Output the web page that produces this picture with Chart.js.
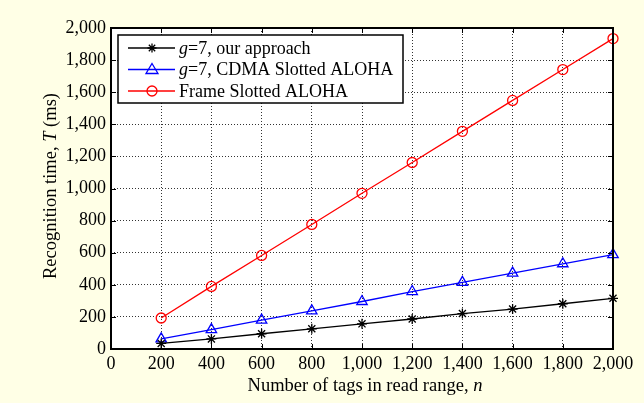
<!DOCTYPE html>
<html>
<head>
<meta charset="utf-8">
<script src="https://cdn.jsdelivr.net/npm/chart.js@4.4.1/dist/chart.umd.min.js"></script>
<style>
  html, body { margin: 0; padding: 0; background: #ffffe6; }
  #wrap { width: 644px; height: 403px; }
</style>
</head>
<body>
<div id="wrap"><canvas id="recog" width="644" height="403"></canvas></div>
<script>
// tags in read range
const tagCounts = [200, 400, 600, 800, 1000, 1200, 1400, 1600, 1800, 2000];
// recognition time (ms)
const ourApproach = [35, 63, 95, 126, 157, 187, 221, 249, 282, 316];
const cdmaAloha = [63, 121, 180, 238, 296, 358, 415, 473, 531, 588];
const frameAloha = [193, 390, 583, 776, 970, 1162, 1356, 1549, 1741, 1934];
const xTicks = [0, 200, 400, 600, 800, 1000, 1200, 1400, 1600, 1800, 2000];
const yTicks = [0, 200, 400, 600, 800, 1000, 1200, 1400, 1600, 1800, 2000];

const FONT = '"Liberation Serif", "Times New Roman", serif';
const fmt = v => v.toLocaleString('en-US');

// legend entries: label parts [text, italic], colour, marker
const legendItems = [
  { parts: [['g', true], ['=7, our approach', false]], color: '#000000', marker: 'star' },
  { parts: [['g', true], ['=7, CDMA Slotted ALOHA', false]], color: '#0000ff', marker: 'triangle' },
  { parts: [['Frame Slotted ALOHA', false]], color: '#ff0000', marker: 'circle' }
];

function drawParts(ctx, parts, x, y, size) {
  let cx = x;
  parts.forEach(([txt, it]) => {
    ctx.font = (it ? 'italic ' : '') + size + 'px ' + FONT;
    ctx.fillText(txt, cx, y);
    cx += ctx.measureText(txt).width;
  });
  return cx;
}
function partsWidth(ctx, parts, size) {
  let w = 0;
  parts.forEach(([txt, it]) => {
    ctx.font = (it ? 'italic ' : '') + size + 'px ' + FONT;
    w += ctx.measureText(txt).width;
  });
  return w;
}

function drawMarker(ctx, type, x, y, color) {
  ctx.save();
  ctx.strokeStyle = color;
  ctx.lineWidth = 1.3;
  ctx.beginPath();
  if (type === 'circle') {
    ctx.arc(x, y, 5, 0, Math.PI * 2);
  } else if (type === 'triangle') {
    ctx.moveTo(x, y - 6); ctx.lineTo(x + 6, y + 4); ctx.lineTo(x - 6, y + 4); ctx.closePath();
  } else {
    for (let a = 0; a < 4; a++) {
      const ang = a * Math.PI / 4;
      ctx.moveTo(x - 4.5 * Math.cos(ang), y - 4.5 * Math.sin(ang));
      ctx.lineTo(x + 4.5 * Math.cos(ang), y + 4.5 * Math.sin(ang));
    }
  }
  ctx.stroke();
  ctx.restore();
}

const bgPlugin = {
  id: 'bg',
  beforeDraw(chart) {
    const { ctx, chartArea: a } = chart;
    ctx.save();
    ctx.fillStyle = '#ffffe6';
    ctx.fillRect(0, 0, chart.width, chart.height);
    ctx.fillStyle = '#ffffff';
    ctx.fillRect(a.left, a.top, a.right - a.left, a.bottom - a.top);
    ctx.restore();
  }
};

const framePlugin = {
  id: 'frame',
  afterDraw(chart) {
    const { ctx, chartArea: a, scales } = chart;
    ctx.save();
    // inward ticks, all four sides
    ctx.strokeStyle = '#000';
    ctx.lineWidth = 1;
    ctx.beginPath();
    xTicks.forEach(v => {
      const px = Math.round(scales.x.getPixelForValue(v)) + 0.5;
      ctx.moveTo(px, a.bottom); ctx.lineTo(px, a.bottom - 5);
      ctx.moveTo(px, a.top); ctx.lineTo(px, a.top + 5);
    });
    yTicks.forEach(v => {
      const py = Math.round(scales.y.getPixelForValue(v)) + 0.5;
      ctx.moveTo(a.left, py); ctx.lineTo(a.left + 5, py);
      ctx.moveTo(a.right, py); ctx.lineTo(a.right - 5, py);
    });
    ctx.stroke();
    ctx.lineWidth = 2;
    ctx.strokeRect(a.left, a.top, a.right - a.left, a.bottom - a.top);

    // axis titles with italic variables
    ctx.fillStyle = '#000';
    ctx.textBaseline = 'alphabetic';
    const xt = [['Number of tags in read range, ', false], ['n', true]];
    const w = partsWidth(ctx, xt, 18.5);
    drawParts(ctx, xt, 365 - w / 2, 391, 18.5);

    const yt = [['Recognition time, ', false], ['T', true], [' (ms)', false]];
    const wy = partsWidth(ctx, yt, 18.5);
    ctx.translate(56, 186);
    ctx.rotate(-Math.PI / 2);
    drawParts(ctx, yt, -wy / 2, 0, 18.5);
    ctx.restore();

    // legend box
    ctx.save();
    const lx = 118, ly = 35, lw = 285, lh = 68;
    ctx.fillStyle = '#fff';
    ctx.fillRect(lx, ly, lw, lh);
    ctx.strokeStyle = '#000';
    ctx.lineWidth = 1.5;
    ctx.strokeRect(lx, ly, lw, lh);
    legendItems.forEach((it, i) => {
      const y = 48 + i * 21.5;
      ctx.strokeStyle = it.color;
      ctx.lineWidth = 1.3;
      ctx.beginPath();
      ctx.moveTo(lx + 10, y); ctx.lineTo(lx + 57, y);
      ctx.stroke();
      drawMarker(ctx, it.marker, lx + 34, y, it.color);
      ctx.fillStyle = '#000';
      ctx.textBaseline = 'middle';
      drawParts(ctx, it.parts, lx + 61, y + 1, 18);
    });
    ctx.restore();
  }
};

const gridStyle = {
  color: '#333333',
  lineWidth: 1,
  drawTicks: false
};

new Chart(document.getElementById('recog'), {
  type: 'line',
  data: {
    labels: tagCounts,
    datasets: [
      {
        label: 'g=7, our approach',
        data: tagCounts.map((n, i) => ({ x: n, y: ourApproach[i] })),
        borderColor: '#000000',
        backgroundColor: '#000000',
        borderWidth: 1.3,
        pointStyle: 'star',
        pointRadius: 5,
        pointBorderWidth: 1.3
      },
      {
        label: 'g=7, CDMA Slotted ALOHA',
        data: tagCounts.map((n, i) => ({ x: n, y: cdmaAloha[i] })),
        borderColor: '#0000ff',
        backgroundColor: 'rgba(0,0,0,0)',
        borderWidth: 1.3,
        pointStyle: 'triangle',
        pointRadius: 6,
        pointBorderWidth: 1.3
      },
      {
        label: 'Frame Slotted ALOHA',
        data: tagCounts.map((n, i) => ({ x: n, y: frameAloha[i] })),
        borderColor: '#ff0000',
        backgroundColor: 'rgba(0,0,0,0)',
        borderWidth: 1.3,
        pointStyle: 'circle',
        pointRadius: 5,
        pointBorderWidth: 1.3
      }
    ]
  },
  options: {
    responsive: false,
    animation: false,
    clip: false,
    layout: { padding: { left: 0, top: 28, right: 31, bottom: 0 } },
    plugins: { legend: { display: false }, tooltip: { enabled: false } },
    scales: {
      x: {
        type: 'linear',
        min: 0, max: 2000,
        afterBuildTicks: s => { s.ticks = xTicks.map(v => ({ value: v })); },
        afterFit: s => { s.height = 54; },
        border: { display: false, dash: [1, 2] },
        grid: gridStyle,
        ticks: {
          color: '#000',
          font: { family: FONT, size: 18 },
          padding: 4,
          maxRotation: 0,
          autoSkip: false,
          callback: v => fmt(v)
        }
      },
      y: {
        type: 'linear',
        min: 0, max: 2000,
        afterBuildTicks: s => { s.ticks = yTicks.map(v => ({ value: v })); },
        afterFit: s => { s.width = 111; },
        border: { display: false, dash: [1, 2] },
        grid: gridStyle,
        ticks: {
          color: '#000',
          font: { family: FONT, size: 18 },
          padding: 5,
          callback: v => fmt(v)
        }
      }
    }
  },
  plugins: [bgPlugin, framePlugin]
});
</script>
</body>
</html>
